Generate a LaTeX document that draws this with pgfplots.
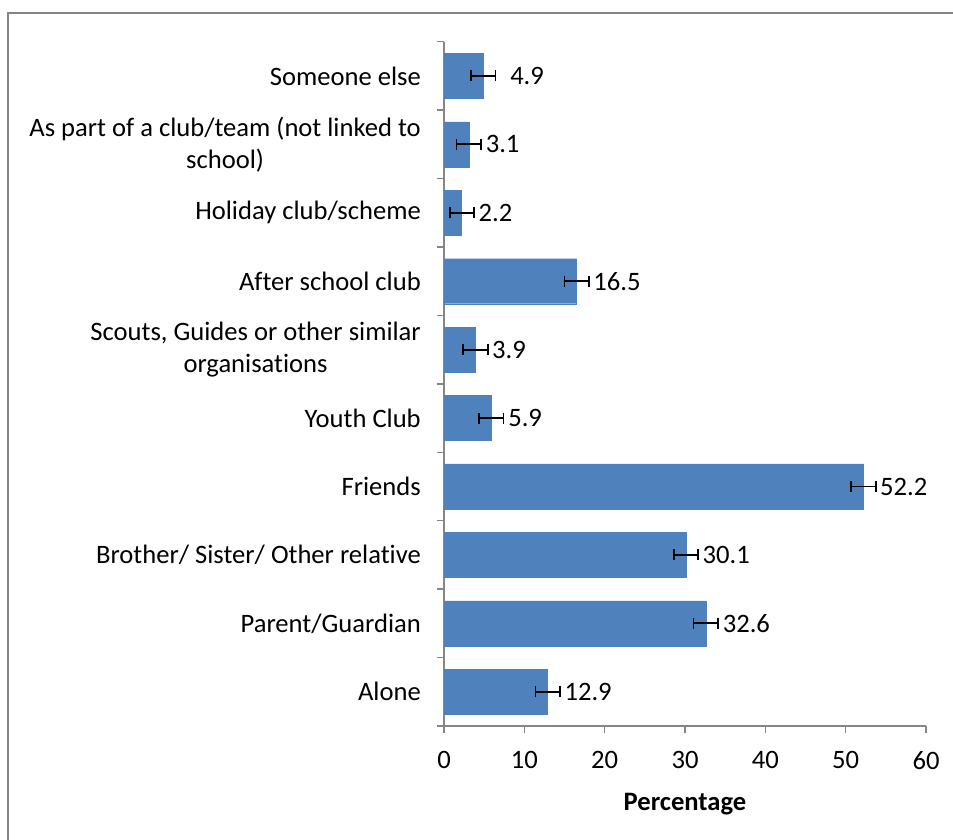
\documentclass[border=0pt]{standalone}
\usepackage{pgfplots}
\pgfplotsset{compat=1.18}
\usepackage{pgfplotstable}
\usepackage{fontspec}
\setmainfont{Carlito}[Ligatures=NoCommon]
\definecolor{barblue}{HTML}{4F81BD}
\definecolor{axgray}{HTML}{868686}
\newcommand\cf{\fontsize{26.6bp}{32bp}\selectfont}
\pgfplotstableread{
x y ex lab sh
12.9 0 1.50 12.9 16
32.6 1 1.55 32.6 16
30.1 2 1.50 30.1 16
52.2 3 1.55 52.2 16
5.9 4 1.50 5.9 16
3.9 5 1.55 3.9 16
16.5 6 1.50 16.5 16
2.2 7 1.50 2.2 16
3.1 8 1.55 3.1 16
4.9 9 1.50 4.9 26
}\datatable
\begin{document}
\begin{tikzpicture}
\draw[color=axgray, line width=2bp] (8.3bp,-5bp) -- (8.3bp,827.3bp) -- (960bp,827.3bp);
\begin{axis}[
 at={(444bp,114bp)}, anchor=south west,
 scale only axis, width=482bp, height=684.3bp,
 xmin=0, xmax=60, ymin=-0.5, ymax=9.5,
 axis x line*=bottom, axis y line*=left,
 axis line style={axgray, line width=1.5bp},
 xtick={0,10,...,60},
 ytick={0,...,9},
 minor ytick={-0.5,0.5,...,9.5},
 yticklabels={Alone, Parent/Guardian, {Brother/ Sister/ Other relative}, Friends, Youth Club, {Scouts, Guides or other similar\\organisations}, After school club, Holiday club/scheme, {As part of a club/team (not linked to\\school)}, Someone else},
 tick align=outside,
 tick style={axgray, line width=1.5bp},
 major tick length=7bp,
 minor tick length=7bp,
 major y tick style={draw=none},
 /pgf/number format/assume math mode=true,
 ticklabel style={font=\cf, text=black},
 yticklabel style={align=center, inner sep=0pt, xshift=-16bp},
 xticklabel style={inner sep=0pt, yshift=-18bp},
 xlabel={\textbf{Percentage}},
 xlabel style={font=\cf, at={(axis description cs:0.5,0)}, anchor=north, inner sep=0pt, yshift=-67bp},
 xbar, bar width=45bp,
 clip=false,
]
\addplot[fill=barblue, draw=barblue,
 every mark/.append style={line width=1.8bp},
 error bars/.cd, x dir=both, x explicit,
 error bar style={black, line width=1.8bp},
 error mark options={rotate=90, black, line width=1.8bp, mark size=5.5bp},
 ] 
 plot[
 nodes near coords, point meta=explicit symbolic,
 visualization depends on={\thisrow{sh} \as \lsh},
 every node near coord/.append style={font=\cf, text=black, anchor=west, inner sep=0pt, xshift=\lsh*1bp},
 ] table[x=x, y=y, x error=ex, meta=lab] {\datatable};
\end{axis}
\pgfresetboundingbox
\useasboundingbox (0,0) rectangle (953bp,840bp);
\end{tikzpicture}
\end{document}
